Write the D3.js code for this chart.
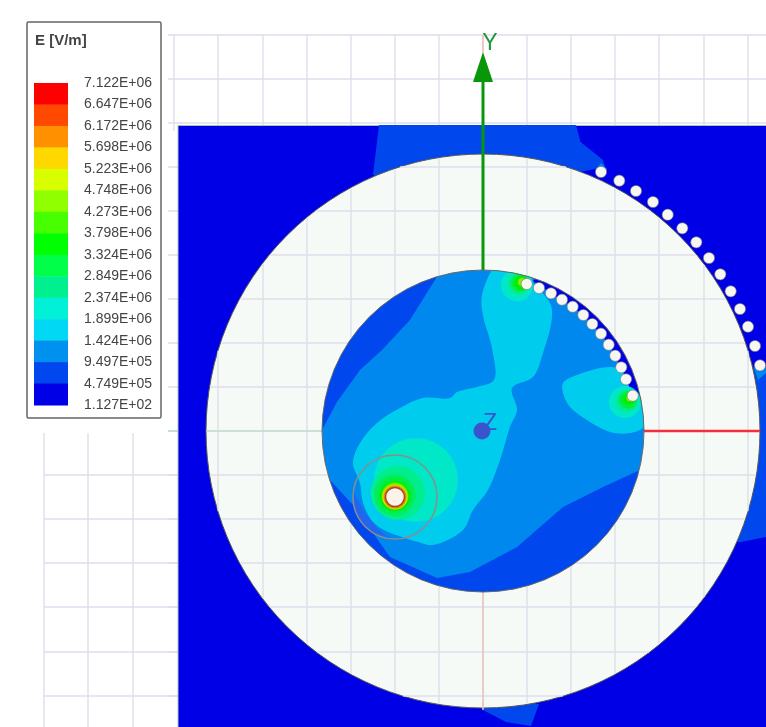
<!DOCTYPE html>
<html>
<head>
<meta charset="utf-8">
<script src="https://cdnjs.cloudflare.com/ajax/libs/d3/7.8.5/d3.min.js"></script>
<style>
html, body { margin: 0; padding: 0; background: #fff; overflow: hidden; }
svg { display: block; filter: blur(0.45px); }
text { font-family: "Liberation Sans", Arial, sans-serif; }
</style>
</head>
<body>
<div id="chart"></div>
<script>
// legend, top to bottom
const legendTitle = "E [V/m]";
const legendLabels = ["7.122E+06", "6.647E+06", "6.172E+06", "5.698E+06", "5.223E+06", "4.748E+06", "4.273E+06", "3.798E+06",
    "3.324E+06", "2.849E+06", "2.374E+06", "1.899E+06", "1.424E+06", "9.497E+05", "4.749E+05", "1.127E+02"];
const legendColors = ["#ff0000", "#ff4800", "#ff9000", "#ffd800", "#d8ff00", "#90ff00", "#48ff00", "#00ff00",
    "#00ff48", "#00f090", "#00f0d8", "#00d8f4", "#0090ee", "#0048ee", "#0000e6"];

// grid ticks, model units measured from the Z axis
const gridX = [-309, -265, -220, -176, -132, -88, -44, 0, 44, 88, 132, 176, 221, 265];
const gridY = [396, 352, 308, 264, 220, 176, 132, 88, 44, 0, -44, -88, -132, -176, -221, -265];
const sideGridX = [-439, -395, -350];
const sideGridY = [-44, -88, -132, -176, -221, -265];

const outerRadius = 277;
const innerRadius = 161;

// field regions outside the outer circle
const airTop = [[-104, 306], [-110, 256], [0, 240], [122, 264], [120, 271], [97.5, 289], [93, 306]];
const airRight = [[270, 64], [300, 64], [300, -106], [283, -106], [258, -111], [200, -111]];
const airBottom = [[0, -279], [23, -291], [48, -295], [56, -273], [0, -270]];
const airSpotRight = [[271, 63], [283, 64], [283, 58], [275, 51]];
const airSpotTop = [[113, 262], [118, 268], [124, 262], [118, 255]];

// field regions inside the inner circle
const darkUpper = [[-45, 175], [-45, 156], [-73, 111], [-101, 81], [-123, 61], [-146, 29], [-161, 1], [-175, 1], [-175, 175]];
const darkLower = [[-175, -49], [-153, -49], [-128, -76], [-103, -112], [-93, -126], [-46, -147], [-13, -141], [34, -116], [80, -76],
    [120, -56], [157, -39], [175, -39], [175, -175], [-175, -175]];
const cyanMain = [[8.7, 161], [-1.3, 134], [0.3, 114], [8.7, 84], [11, 51], [-6, 44], [-26, 39], [-33, 33], [-60, 33], [-83, 23],
    [-106, 8], [-123, -12], [-130, -32], [-123, -52], [-120, -72], [-110, -91], [-95, -101], [-81, -106], [-65, -111], [-50, -114],
    [-20, -99], [-10, -79], [5, -59], [17, -29], [27, 4], [34, 21], [29, 43], [50, 54], [60, 78], [69, 114], [67, 128], [47, 151],
    [40, 159], [20, 175]];
const cyanRight = [[80, 48], [80, 38], [87, 24], [104, 11], [127, -1], [147, -2], [161, 4], [170, 24], [157, 38], [134, 63], [94, 56]];
const sliver = [[50, 150], [68, 138], [79, 131], [90, 124], [100, 116], [109, 107], [118, 97], [126, 86], [132, 75], [138, 64], [143, 52],
    [150, 35], [152, 30], [168, 30], [165, 60], [130, 120], [70, 168]];
const crescent = [[-130, -59], [-118, -82], [-106, -97], [-93, -108], [-90, -125], [-125, -115], [-145, -70]];

// contour rings: dx, dy, r, band
const rings = [
    [-67, -49, 42, "#00e8c8"], [-85, -62, 27, "#00ee90"], [-88, -64, 21, "#00ee60"], [-88, -64, 18, "#00ee44"], [-88, -65, 15, "#00ee00"],
    [-88, -65, 13.5, "#66ee00"], [-88, -66, 12.5, "#ccee00"], [-88, -66, 11.5, "#ee8800"],
    [34, 146, 16, "#00e8c8"], [36, 147, 11, "#00ee90"], [37, 148, 9, "#00ee44"], [38, 148, 7, "#00ee00"], [39, 149, 4, "#88ee00"],
    [142, 29, 16, "#00e8c8"], [144, 30, 11, "#00ee90"], [145, 31, 9, "#00ee44"], [146, 32, 6, "#00ee00"], [147, 33, 3.5, "#88ee00"]
];

const feedPoint = [-88, -66];
const feedRadius = 9.5;
const feedShield = 42;

// conductors
const outerDots = [[118, 259], [136.3, 250.3], [153, 240], [170, 229], [184.7, 216.3], [199.3, 202.7], [213.3, 188.7], [226, 173],
    [237.3, 156.7], [247.7, 139.7], [257, 122], [265, 104.3], [272, 85], [277, 65.7]];
const innerDots = [[43.7, 147], [56, 143], [68, 137.7], [79, 131.3], [89.7, 124.3], [100.3, 116], [109.3, 107], [118, 97.3],
    [125.7, 86.3], [132.3, 75.3], [138.3, 63.7], [143, 51.7], [149.7, 35.3]];

const width = 766, height = 727;
const x = d3.scaleLinear().domain([-483, 283]).range([0, width]);
const y = d3.scaleLinear().domain([431, -296]).range([0, height]);
const r = v => x(v) - x(0);

const gridColor = "#dedeec";
const poly = d3.line().x(d => x(d[0])).y(d => y(d[1]));
const smooth = d3.line().x(d => x(d[0])).y(d => y(d[1])).curve(d3.curveCatmullRomClosed.alpha(0.5));

const svg = d3.select("#chart").append("svg")
    .attr("width", width)
    .attr("height", height);

const defs = svg.append("defs");
defs.append("clipPath").attr("id", "innerClip").append("circle")
    .attr("cx", x(0)).attr("cy", y(0)).attr("r", r(innerRadius));
defs.append("clipPath").attr("id", "shieldClip").append("circle")
    .attr("cx", x(feedPoint[0])).attr("cy", y(feedPoint[1])).attr("r", r(feedShield));

function hLine(g, v, x0, x1, color, w) {
    g.append("line").attr("x1", x(x0)).attr("x2", x(x1)).attr("y1", y(v)).attr("y2", y(v))
        .attr("stroke", color).attr("stroke-width", w);
}
function vLine(g, v, y0, y1, color, w) {
    g.append("line").attr("x1", x(v)).attr("x2", x(v)).attr("y1", y(y0)).attr("y2", y(y1))
        .attr("stroke", color).attr("stroke-width", w);
}
function fillPoly(g, pts, color) {
    g.append("path").attr("d", poly(pts) + "Z").attr("fill", color);
}

// grid behind the solid
const backGrid = svg.append("g");
gridX.forEach(v => vLine(backGrid, v, 396, 300, gridColor, 1.4));
gridY.forEach(v => hLine(backGrid, v, -315, 283, gridColor, 1.4));
sideGridX.forEach(v => vLine(backGrid, v, -2, -296, gridColor, 1.4));
sideGridY.forEach(v => hLine(backGrid, v, -439, -305, gridColor, 1.4));
hLine(backGrid, 0, -315, -305, "#b5d8b5", 1.2);
vLine(backGrid, 0, 396, 379, "#f0c4c4", 1.5);

// air box
svg.append("rect")
    .attr("x", x(-305)).attr("y", y(305.5))
    .attr("width", x(283) - x(-305) + 5).attr("height", y(-296) - y(305.5) + 5)
    .attr("fill", "#0000e6").attr("stroke", "#a9c4a9").attr("stroke-width", 1);

const air = svg.append("g");
fillPoly(air, airTop, "#0048ee");
fillPoly(air, airRight, "#0048ee");
fillPoly(air, airBottom, "#0048ee");
fillPoly(air, airSpotRight, "#0088ee");
fillPoly(air, airSpotTop, "#0088ee");

// dielectric ring between the two conductors
svg.append("circle")
    .attr("cx", x(0)).attr("cy", y(0)).attr("r", r(outerRadius))
    .attr("fill", "#f5faf6").attr("stroke", "#555").attr("stroke-width", 1);

const ringGrid = svg.append("g");
gridX.forEach(v => {
    const h = Math.sqrt(outerRadius * outerRadius - v * v) - 1;
    if (h > 0) vLine(ringGrid, v, h, -h, gridColor, 1.4);
});
gridY.forEach(v => {
    if (Math.abs(v) < outerRadius) {
        const h = Math.sqrt(outerRadius * outerRadius - v * v) - 1;
        hLine(ringGrid, v, -h, h, gridColor, 1.4);
    }
});

// axes lying on the dielectric
hLine(svg, 0, -277, -161, "#b5d8b5", 1.2);
vLine(svg, 0, -161, -279, "#ecc0c0", 1.5);
hLine(svg, 0, 161, 277, "#f0303a", 2.5);
vLine(svg, 0, 349, 161, "#0a960a", 3);
vLine(svg, 0, 396, 379, "#f0c4c4", 1.5);
svg.append("path")
    .attr("d", poly([[0, 379], [10, 349], [-10, 349]]) + "Z")
    .attr("fill", "#0a960a");
svg.append("text")
    .attr("x", x(7)).attr("y", y(381))
    .attr("text-anchor", "middle")
    .attr("font-size", 23)
    .attr("fill", "#1f9a3a")
    .text("Y");

// inner disc with the field plot
const disc = svg.append("g").attr("clip-path", "url(#innerClip)");
disc.append("circle").attr("cx", x(0)).attr("cy", y(0)).attr("r", r(innerRadius)).attr("fill", "#0088ee");
fillPoly(disc, darkUpper, "#0048ee");
fillPoly(disc, darkLower, "#0048ee");
disc.append("path").attr("d", smooth(cyanMain)).attr("fill", "#00ccee");
disc.append("path").attr("d", smooth(cyanRight)).attr("fill", "#00ccee");
fillPoly(disc, sliver, "#0000e6");
fillPoly(disc.append("g").attr("clip-path", "url(#shieldClip)"), crescent, "#2266ee");

disc.selectAll("circle.ring")
    .data(rings)
    .enter().append("circle")
    .attr("class", "ring")
    .attr("cx", d => x(d[0]))
    .attr("cy", d => y(d[1]))
    .attr("r", d => r(d[2]))
    .attr("fill", d => d[3]);

svg.append("circle")
    .attr("cx", x(0)).attr("cy", y(0)).attr("r", r(innerRadius))
    .attr("fill", "none").attr("stroke", "#666").attr("stroke-width", 1);

// shield and feed
svg.append("circle")
    .attr("cx", x(feedPoint[0])).attr("cy", y(feedPoint[1])).attr("r", r(feedShield))
    .attr("fill", "none").attr("stroke", "#8c8c8c").attr("stroke-width", 1.5);
svg.append("circle")
    .attr("cx", x(feedPoint[0])).attr("cy", y(feedPoint[1])).attr("r", r(feedRadius))
    .attr("fill", "#fbf3ea").attr("stroke", "#a5482a").attr("stroke-width", 1.5);

// Z axis marker
svg.append("text")
    .attr("x", x(7)).attr("y", y(1))
    .attr("text-anchor", "middle")
    .attr("font-size", 23)
    .attr("fill", "#3a55cc")
    .text("Z");
svg.append("circle")
    .attr("cx", x(-1)).attr("cy", y(0)).attr("r", r(8.5))
    .attr("fill", "#3a55cc");

// conductors on top
svg.append("g").selectAll("circle")
    .data(outerDots.concat(innerDots))
    .enter().append("circle")
    .attr("cx", d => x(d[0]))
    .attr("cy", d => y(d[1]))
    .attr("r", 5.6)
    .attr("fill", "#f7f7f2")
    .attr("stroke", "#777")
    .attr("stroke-width", 0.6);

// legend
const legend = svg.append("g");
legend.append("rect")
    .attr("x", 27).attr("y", 22).attr("width", 134).attr("height", 396).attr("rx", 1.5)
    .attr("fill", "#fff").attr("stroke", "#666").attr("stroke-width", 1.5);
legend.append("text")
    .attr("x", 35).attr("y", 45)
    .attr("font-size", 15).attr("font-weight", "bold").attr("fill", "#444")
    .text(legendTitle);

const legendY = d3.scalePoint().domain(legendLabels).range([83, 405]);
legend.selectAll("rect.swatch")
    .data(legendColors)
    .enter().append("rect")
    .attr("class", "swatch")
    .attr("x", 34).attr("width", 34)
    .attr("y", (d, i) => legendY(legendLabels[i]))
    .attr("height", legendY.step() + 0.5)
    .attr("fill", d => d);
legend.selectAll("text.lab")
    .data(legendLabels)
    .enter().append("text")
    .attr("class", "lab")
    .attr("x", 84)
    .attr("y", d => legendY(d) + 4)
    .attr("font-size", 14)
    .attr("fill", "#444")
    .text(d => d);
</script>
</body>
</html>
